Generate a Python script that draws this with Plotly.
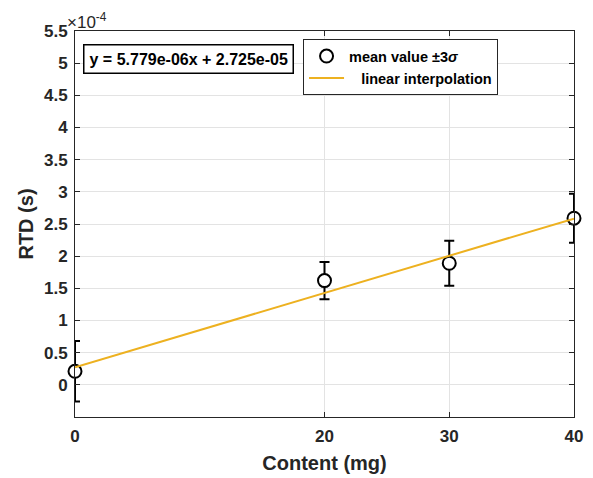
import plotly.graph_objects as go

# Data (RTD in units of 1e-4 s)
content_mg = [0, 20, 30, 40]
rtd_mean_e4 = [0.21, 1.62, 1.89, 2.59]
rtd_3sigma_e4 = [0.47, 0.29, 0.35, 0.38]
fit_slope = 5.779e-06
fit_intercept = 2.725e-05
fit_x = [0, 40]
x_ticks = [0, 20, 30, 40]
y_ticks = [0, 0.5, 1, 1.5, 2, 2.5, 3, 3.5, 4, 4.5, 5, 5.5]

fit_y_e4 = [(fit_slope * x + fit_intercept) * 1e4 for x in fit_x]

FONT = "Liberation Sans, Arial, sans-serif"
DARK = "#262626"

fig = go.Figure()
fig.add_trace(go.Scatter(
    x=content_mg, y=rtd_mean_e4, mode="markers",
    name="mean value ±3<i>σ</i>",
    cliponaxis=False,
    marker=dict(symbol="circle", size=13, color="white",
                line=dict(color="black", width=2)),
    error_y=dict(type="data", array=rtd_3sigma_e4, visible=True,
                 color="black", thickness=2, width=5),
))
fig.add_trace(go.Scatter(
    x=fit_x, y=fit_y_e4, mode="lines",
    name="&nbsp;&nbsp;&nbsp;linear interpolation",
    cliponaxis=False,
    line=dict(color="#EDB120", width=2),
))

axis_common = dict(
    showline=True, linecolor=DARK, linewidth=1, mirror="allticks",
    ticks="inside", ticklen=5, tickcolor=DARK,
    showgrid=True, gridcolor="#e3e3e3", gridwidth=1,
    zeroline=False, automargin=False,
    tickfont=dict(family=FONT, size=17, color=DARK, weight="bold"),
)

fig.update_xaxes(range=[0, 40], tickvals=x_ticks, ticklabelstandoff=4,
                 title=dict(text="Content (mg)", standoff=10,
                            font=dict(family=FONT, size=20, color=DARK, weight="bold")),
                 **axis_common)
fig.update_yaxes(range=[-0.5, 5.5], tickvals=y_ticks, ticklabelstandoff=3,
                 ticktext=[("%g" % v) for v in y_ticks],
                 title=dict(text="RTD (s)", standoff=4,
                            font=dict(family=FONT, size=20, color=DARK, weight="bold")),
                 **axis_common)

fig.add_annotation(xref="paper", yref="paper", x=0, y=1, xanchor="left", yanchor="bottom",
                   xshift=-10, yshift=-3,
                   text="×10<sup>-4</sup>", showarrow=False,
                   font=dict(family=FONT, size=17, color=DARK))
fig.add_annotation(xref="paper", yref="paper", x=0.016, y=0.966, xanchor="left", yanchor="top",
                   text="<b>y = 5.779e-06x + 2.725e-05</b>", showarrow=False,
                   bordercolor="black", borderwidth=1.5, borderpad=5, bgcolor="white",
                   font=dict(family=FONT, size=16, color="black"))

# The page body has an 8px margin, so the figure is offset by 8px.
fig.update_layout(
    width=585, height=470,
    margin=dict(l=67, r=19, t=23, b=61),
    paper_bgcolor="white", plot_bgcolor="white",
    font=dict(family=FONT, color=DARK),
    legend=dict(x=0.457, y=0.979, xanchor="left", yanchor="top",
                bgcolor="white", bordercolor=DARK, borderwidth=1,
                font=dict(family=FONT, size=14.5, color="black", weight="bold"),
                tracegroupgap=0, itemwidth=35),
)

fig.write_html("out.html")
